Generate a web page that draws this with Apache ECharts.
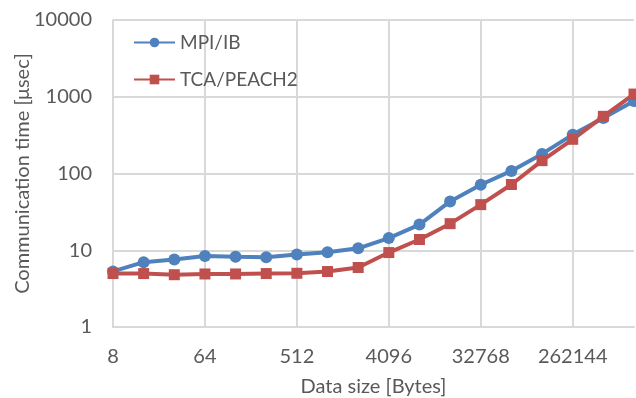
<!DOCTYPE html>
<html>
<head>
<meta charset="utf-8">
<script src="https://cdn.jsdelivr.net/npm/echarts@6/dist/echarts.min.js"></script>
<style>html,body{margin:0;padding:0;background:#fff;}#c{width:636px;height:398px;}</style>
</head>
<body>
<div id="c"></div>
<script>
var categories = ['8','16','32','64','128','256','512','1024','2048','4096','8192','16384','32768','65536','131072','262144','524288','1048576'];
var mpiIB = [5.3, 7.0, 7.6, 8.4, 8.2, 8.1, 8.8, 9.4, 10.6, 14.4, 21.6, 43.3, 71.3, 108, 180, 321, 528, 880];
var tcaPeach2 = [4.97, 4.97, 4.8, 4.91, 4.91, 4.97, 5.01, 5.28, 5.96, 9.33, 13.8, 22.2, 39.3, 71.9, 147, 279, 556, 1084];
var yTicks = [1, 10, 100, 1000, 10000];

var font = 'Lato, "Open Sans", sans-serif';
var txt = '#595959';
var chart = echarts.init(document.getElementById('c'));
chart.setOption({
  animation: false,
  backgroundColor: '#fff',
  grid: {left: 113, right: 2, top: 20, bottom: 71, containLabel: false, outerBoundsMode: 'none'},
  legend: {
    orient: 'vertical', left: 133, top: 33, padding: 0, itemWidth: 41, itemHeight: 12, itemGap: 18,
    textStyle: {fontFamily: font, fontSize: 19, color: txt},
    data: ['MPI/IB', 'TCA/PEACH2']
  },
  xAxis: {
    type: 'category', data: categories, boundaryGap: false,
    name: 'Data size [Bytes]', nameLocation: 'middle', nameGap: 50, nameMoveOverlap: false,
    nameTextStyle: {fontFamily: font, fontSize: 20, color: txt},
    axisLine: {lineStyle: {color: '#D9D9D9', width: 2}},
    axisTick: {show: false},
    axisLabel: {interval: 2, fontFamily: font, fontSize: 20, color: txt, margin: 20},
    splitLine: {show: true, interval: 2, lineStyle: {color: '#D9D9D9', width: 2}}
  },
  yAxis: {
    type: 'log', logBase: 10, min: yTicks[0], max: yTicks[yTicks.length-1],
    name: 'Communication time [μsec]', nameLocation: 'middle', nameGap: 80, nameMoveOverlap: false,
    nameTextStyle: {fontFamily: font, fontSize: 20, color: txt},
    axisLine: {show: true, lineStyle: {color: '#D9D9D9', width: 2}},
    axisTick: {show: false},
    axisLabel: {fontFamily: font, fontSize: 20, color: txt, margin: 21,
      formatter: function (v) { return String(Math.round(v)); }},
    splitLine: {show: true, lineStyle: {color: '#D9D9D9', width: 2}}
  },
  series: [
    {name: 'MPI/IB', type: 'line', data: mpiIB, symbol: 'circle', symbolSize: 12,
     itemStyle: {color: '#4F81BD'}, lineStyle: {color: '#4F81BD', width: 4}},
    {name: 'TCA/PEACH2', type: 'line', data: tcaPeach2, symbol: 'rect', symbolSize: 11,
     itemStyle: {color: '#C0504D'}, lineStyle: {color: '#C0504D', width: 4}}
  ]
});
</script>
</body>
</html>
